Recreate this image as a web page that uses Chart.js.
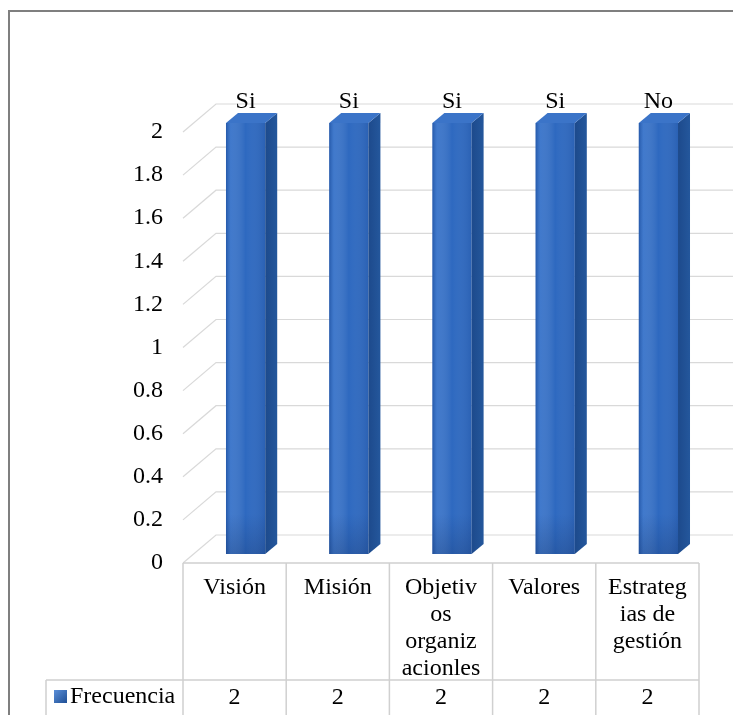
<!DOCTYPE html>
<html>
<head>
<meta charset="utf-8">
<script src="https://cdn.jsdelivr.net/npm/chart.js@4/dist/chart.umd.min.js"></script>
<style>
  html, body { margin: 0; padding: 0; background: #fff; }
  canvas { display: block; }
  .warm { font-family: 'Liberation Serif'; position: absolute; left: -9999px; }
</style>
</head>
<body>
<span class="warm">Frecuencia 0123456789</span>
<canvas id="c" width="733" height="715"></canvas>
<script>
// Categories (full names) and how they wrap inside the table cells
const categories = ['Visión', 'Misión', 'Objetivos organizacionles', 'Valores', 'Estrategias de gestión'];
const tickLabels = [
  ['Visión'],
  ['Misión'],
  ['Objetiv', 'os', 'organiz', 'acionles'],
  ['Valores'],
  ['Estrateg', 'ias de', 'gestión']
];
// Series
const seriesName = 'Frecuencia';
const frecuencia = [2, 2, 2, 2, 2];
const respuesta = ['Si', 'Si', 'Si', 'Si', 'No'];
// Value axis
const yMin = 0;
const yMax = 2;
const yStep = 0.2;

const FONT = 'Liberation Serif';
const FONT_SIZE = 24;

// 3D geometry: back wall offset and bar position inside the depth
const WALL_DX = 33, WALL_DY = -28;
const BAR_DX = 11, BAR_DY = -9;
const SIDE_DX = 12, SIDE_DY = -10;

function fontStr() { return FONT_SIZE + 'px "' + FONT + '"'; }

const threeD = {
  id: 'threeD',
  beforeDraw(chart) {
    const ctx = chart.ctx;
    ctx.save();
    ctx.fillStyle = '#ffffff';
    ctx.fillRect(0, 0, chart.width, chart.height);
    // frame
    ctx.fillStyle = '#7f7f7f';
    ctx.fillRect(8, 10, chart.width - 8, 2);
    ctx.fillRect(8, 10, 2, chart.height - 10);
    ctx.restore();
  },
  beforeDatasetsDraw(chart) {
    const ctx = chart.ctx;
    const y = chart.scales.y;
    const area = chart.chartArea;
    ctx.save();
    ctx.strokeStyle = '#d9d9d9';
    ctx.lineWidth = 1.2;
    y.ticks.forEach(t => {
      const py = y.getPixelForValue(t.value);
      ctx.beginPath();
      ctx.moveTo(area.left, py);
      ctx.lineTo(area.left + WALL_DX, py + WALL_DY);
      ctx.lineTo(chart.width, py + WALL_DY);
      ctx.stroke();
    });
    ctx.restore();
    // bars sit a third of the way into the depth
    ctx.save();
    ctx.translate(BAR_DX, BAR_DY);
  },
  afterDatasetsDraw(chart) {
    const ctx = chart.ctx;
    const meta = chart.getDatasetMeta(0);
    meta.data.forEach(el => {
      const l = el.x - el.width / 2, r = el.x + el.width / 2;
      const top = el.y, base = el.base;
      // front shading
      const g = ctx.createLinearGradient(l, 0, r, 0);
      g.addColorStop(0, 'rgba(20,60,130,0.35)');
      g.addColorStop(0.12, 'rgba(120,170,240,0.25)');
      g.addColorStop(0.5, 'rgba(255,255,255,0.0)');
      g.addColorStop(1, 'rgba(20,50,110,0.15)');
      ctx.fillStyle = g;
      ctx.fillRect(l, top, r - l, base - top);
      const gv = ctx.createLinearGradient(0, base - 40, 0, base);
      gv.addColorStop(0, 'rgba(15,40,90,0)');
      gv.addColorStop(1, 'rgba(15,40,90,0.25)');
      ctx.fillStyle = gv;
      ctx.fillRect(l, base - 40, r - l, 40);
      // side face
      ctx.beginPath();
      ctx.moveTo(r, top);
      ctx.lineTo(r + SIDE_DX, top + SIDE_DY);
      ctx.lineTo(r + SIDE_DX, base + SIDE_DY);
      ctx.lineTo(r, base);
      ctx.closePath();
      const gs = ctx.createLinearGradient(r, 0, r + SIDE_DX, 0);
      gs.addColorStop(0, '#1d4a8c');
      gs.addColorStop(1, '#24579c');
      ctx.fillStyle = gs;
      ctx.fill();
      // top face
      ctx.beginPath();
      ctx.moveTo(l, top);
      ctx.lineTo(l + SIDE_DX, top + SIDE_DY);
      ctx.lineTo(r + SIDE_DX, top + SIDE_DY);
      ctx.lineTo(r, top);
      ctx.closePath();
      ctx.fillStyle = '#3b74c8';
      ctx.fill();
    });
    ctx.restore();
    // answer labels above bars
    ctx.save();
    ctx.font = fontStr();
    ctx.fillStyle = '#000';
    ctx.textAlign = 'center';
    ctx.textBaseline = 'middle';
    meta.data.forEach((el, i) => {
      ctx.fillText(respuesta[i], el.x + BAR_DX, el.y + BAR_DY - 21);
    });
    ctx.restore();
  },
  afterDraw(chart) {
    const ctx = chart.ctx;
    const x = chart.scales.x;
    const area = chart.chartArea;
    const n = categories.length;
    const colW = (area.right - area.left) / n;
    const tTop = area.bottom, rowY = 680, bottom = chart.height;
    const legL = 46;
    ctx.save();
    ctx.strokeStyle = '#d0d0d0';
    ctx.lineWidth = 1.5;
    ctx.beginPath();
    ctx.moveTo(area.left, tTop); ctx.lineTo(area.right, tTop);
    ctx.moveTo(legL, rowY); ctx.lineTo(area.right, rowY);
    ctx.moveTo(legL, rowY); ctx.lineTo(legL, bottom);
    for (let i = 0; i <= n; i++) {
      const px = area.left + i * colW;
      ctx.moveTo(px, tTop); ctx.lineTo(px, bottom);
    }
    ctx.stroke();
    // value row
    ctx.font = fontStr();
    ctx.fillStyle = '#000';
    ctx.textBaseline = 'middle';
    ctx.textAlign = 'center';
    frecuencia.forEach((v, i) => {
      ctx.fillText(String(v), x.getPixelForValue(i), 698);
    });
    // legend key
    const kg = ctx.createLinearGradient(54, 690, 67, 703);
    kg.addColorStop(0, '#5b8fd8');
    kg.addColorStop(1, '#1f4f95');
    ctx.fillStyle = kg;
    ctx.fillRect(54, 690, 13, 13);
    ctx.fillStyle = '#000';
    ctx.textAlign = 'left';
    ctx.fillText(seriesName, 70, 697);
    ctx.restore();
  }
};

function build() {
  new Chart(document.getElementById('c'), {
    type: 'bar',
    data: {
      labels: tickLabels,
      datasets: [{
        label: seriesName,
        data: frecuencia,
        backgroundColor: '#2e69c0',
        borderWidth: 0,
        barPercentage: 0.38,
        categoryPercentage: 1
      }]
    },
    options: {
      responsive: false,
      animation: false,
      devicePixelRatio: 1,
      font: { family: '"' + FONT + '"' },
      layout: { padding: { top: 132, right: 34, left: 0, bottom: 0 } },
      plugins: {
        legend: { display: false },
        tooltip: { enabled: false },
        title: { display: false }
      },
      scales: {
        x: {
          grid: { display: false },
          border: { display: false },
          ticks: {
            color: '#000',
            padding: 3,
            maxRotation: 0,
            autoSkip: false,
            font: { family: '"' + FONT + '"', size: FONT_SIZE, lineHeight: 1.13 }
          },
          afterFit(s) { s.height = 152; }
        },
        y: {
          min: yMin,
          max: yMax,
          grid: { display: false, drawTicks: false },
          border: { display: false },
          ticks: {
            stepSize: yStep,
            color: '#000',
            padding: 20,
            autoSkip: false,
            font: { family: '"' + FONT + '"', size: FONT_SIZE },
            callback: v => String(Math.round(v * 10) / 10)
          },
          afterFit(s) { s.width = 183; }
        }
      }
    },
    plugins: [threeD]
  });
}

Chart.defaults.font.family = '"' + FONT + '"';
if (document.fonts && document.fonts.load) {
  document.fonts.load(fontStr()).then(build, build);
} else {
  build();
}
</script>
</body>
</html>
